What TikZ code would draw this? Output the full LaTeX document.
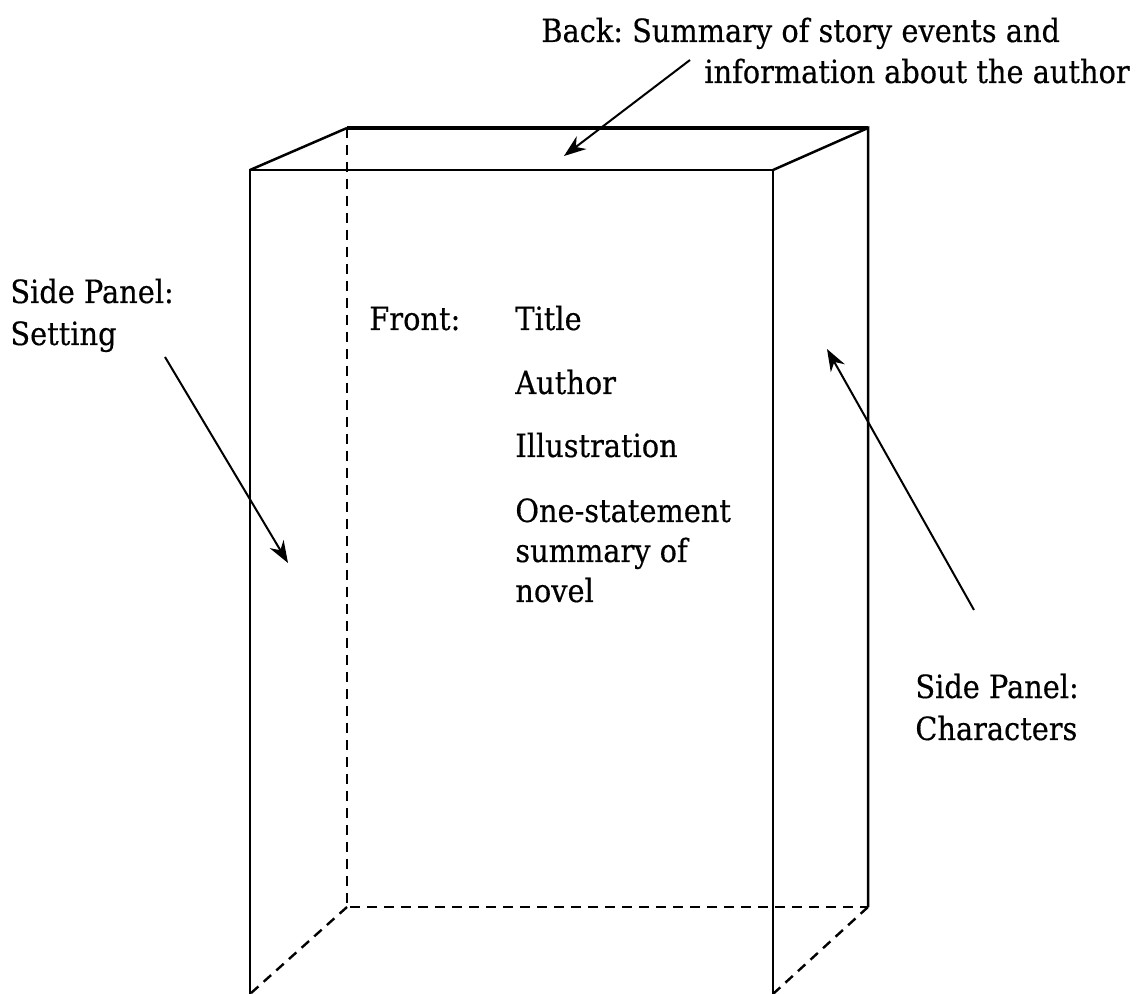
\documentclass[tikz,border=0pt]{standalone}
\usepackage{fontspec}
\setmainfont{DejaVu Serif}[FakeStretch=0.9,FakeBold=0.4]
\usepackage{tikz}
\usetikzlibrary{arrows.meta,positioning}
\frenchspacing

\begin{document}
\begin{tikzpicture}[x=0.5pt,y=-0.5pt,
  every node/.append style={inner sep=0pt,font=\fontsize{16}{19}\selectfont},
  txt/.style={anchor=base west},
  edge/.style={line width=1.25pt},
  hidden/.style={line width=1.2pt,dash pattern=on 5pt off 3.5pt},
  pointer/.style={line width=1pt,-{Stealth[length=11pt,width=8pt]}}]
\useasboundingbox (0,0) rectangle (1136,994);
% corners of the box
\coordinate (ftl) at (250,170);
\coordinate (ftr) at (773,170);
\coordinate (fbl) at (250,994);
\coordinate (fbr) at (773,994);
\coordinate (btl) at (347,128);
\coordinate (btr) at (868,128);
\coordinate (bbl) at (347,907);
\coordinate (bbr) at (868,907);
% visible edges
\draw [edge] (fbl) -- (ftl) -- (ftr) -- (fbr);
\draw [edge] (ftl) -- (btl);
\draw [edge] (ftr) -- (btr) -- (bbr);
\draw [line width=1.75pt] (btl) -- (btr);
% hidden edges
\draw [hidden] (btl) -- (bbl) -- (bbr);
\draw [hidden] (bbl) -- (fbl);
\draw [hidden] (bbr) -- (fbr);
% labels
\node [txt] (back1) at (541,42) {Back: Summary of story events and};
\node [txt] (back2) at (704,83) {information about the author};
\node [txt] (set1) at (10,303) {Side Panel:};
\node [txt] (set2) at (10,345) {Setting};
\node [txt] (chr1) at (915,698) {Side Panel:};
\node [txt] (chr2) at (915,740) {Characters};
\node [txt] (front) at (369,330) {Front:};
\node [txt] (title) at (515,330) {Title};
\node [txt] (author) at (515,394) {Author};
\node [txt] (illus) at (515,457) {Illustration};
\node [txt] (sum1) at (515,522) {One-statement};
\node [txt] (sum2) at (515,562) {summary of};
\node [txt] (sum3) at (515,602) {novel};
% arrows
\coordinate (backtail) at (690,60);
\coordinate (backtip) at (564,156);
\coordinate (settail) at (165,357);
\coordinate (settip) at (288,563);
\coordinate (chrtail) at (974,610);
\coordinate (chrtip) at (827,349);
\draw [pointer] (backtail) -- (backtip);
\draw [pointer] (settail) -- (settip);
\draw [pointer] (chrtail) -- (chrtip);
\end{tikzpicture}
\end{document}
